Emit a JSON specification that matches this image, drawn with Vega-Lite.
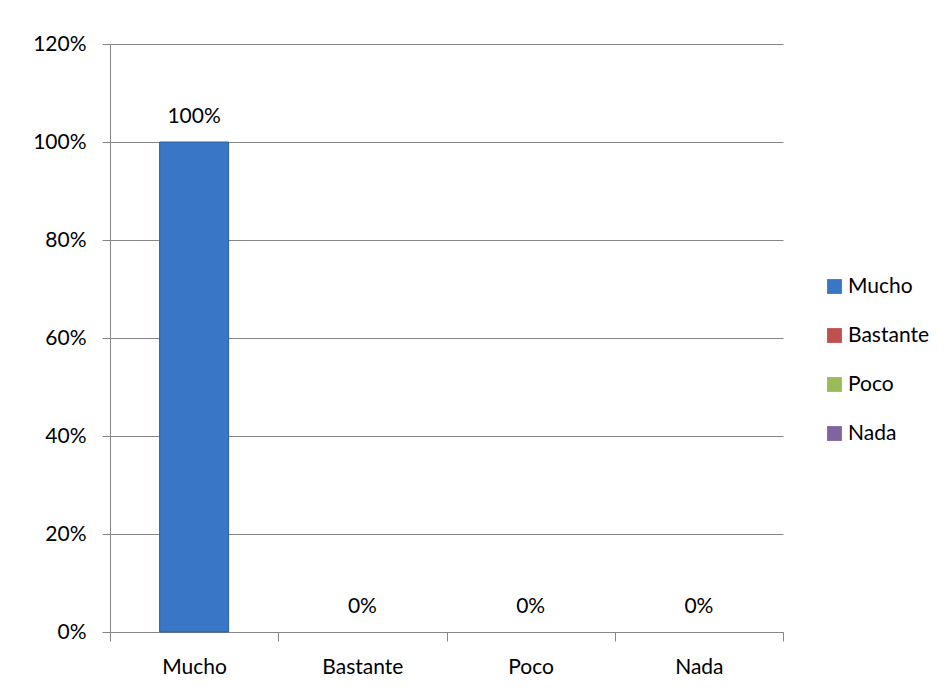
{
  "$schema": "https://vega.github.io/schema/vega-lite/v6.json",
  "width": 673,
  "height": 588,
  "autosize": "none",
  "padding": {"left": 110, "top": 44, "right": 169, "bottom": 59},
  "background": "white",
  "data": {
    "values": [
      {"respuesta": "Mucho", "porcentaje": 1.0},
      {"respuesta": "Bastante", "porcentaje": 0.0},
      {"respuesta": "Poco", "porcentaje": 0.0},
      {"respuesta": "Nada", "porcentaje": 0.0}
    ]
  },
  "encoding": {
    "x": {
      "field": "respuesta",
      "type": "nominal",
      "sort": null,
      "scale": {"paddingInner": 0, "paddingOuter": 0},
      "axis": {
        "title": null,
        "labelAngle": 0,
        "tickBand": "extent",
        "tickSize": 9,
        "labelPadding": 15,
        "domainColor": "#868686",
        "tickColor": "#868686",
        "grid": false
      }
    },
    "y": {
      "field": "porcentaje",
      "type": "quantitative",
      "scale": {"domain": [0, 1.2], "nice": false},
      "axis": {
        "title": null,
        "values": [0, 0.2, 0.4, 0.6, 0.8, 1.0, 1.2],
        "format": ".0%",
        "tickSize": 8,
        "labelPadding": 16,
        "domainColor": "#868686",
        "tickColor": "#868686",
        "gridColor": "#868686",
        "grid": true
      }
    }
  },
  "layer": [
    {
      "mark": {"type": "bar", "width": {"band": 0.41}, "stroke": "#2E5C9A", "strokeWidth": {"expr": "datum.porcentaje > 0 ? 1 : 0"}},
      "encoding": {
        "color": {
          "field": "respuesta",
          "type": "nominal",
          "sort": null,
          "scale": {
            "domain": ["Mucho", "Bastante", "Poco", "Nada"],
            "range": ["#3A76C6", "#C0504D", "#9BBB59", "#8064A2"]
          },
          "legend": {
            "title": null,
            "orient": "none",
            "legendX": 714,
            "legendY": 232,
            "symbolType": "square",
            "symbolSize": 220,
            "symbolStrokeWidth": 0,
            "rowPadding": 27,
            "labelFontSize": 21,
            "labelFont": "Lato",
            "labelColor": "black",
            "labelOffset": 3
          }
        }
      }
    },
    {
      "mark": {"type": "text", "baseline": "alphabetic", "dy": -19, "fontSize": 21, "font": "Lato", "color": "black"},
      "encoding": {
        "text": {"field": "porcentaje", "type": "quantitative", "format": ".0%"}
      }
    }
  ],
  "config": {
    "view": {"stroke": null},
    "axis": {
      "labelFont": "Lato",
      "labelFontSize": 21,
      "labelColor": "black",
      "domainWidth": 1,
      "tickWidth": 1,
      "gridWidth": 1
    }
  }
}
